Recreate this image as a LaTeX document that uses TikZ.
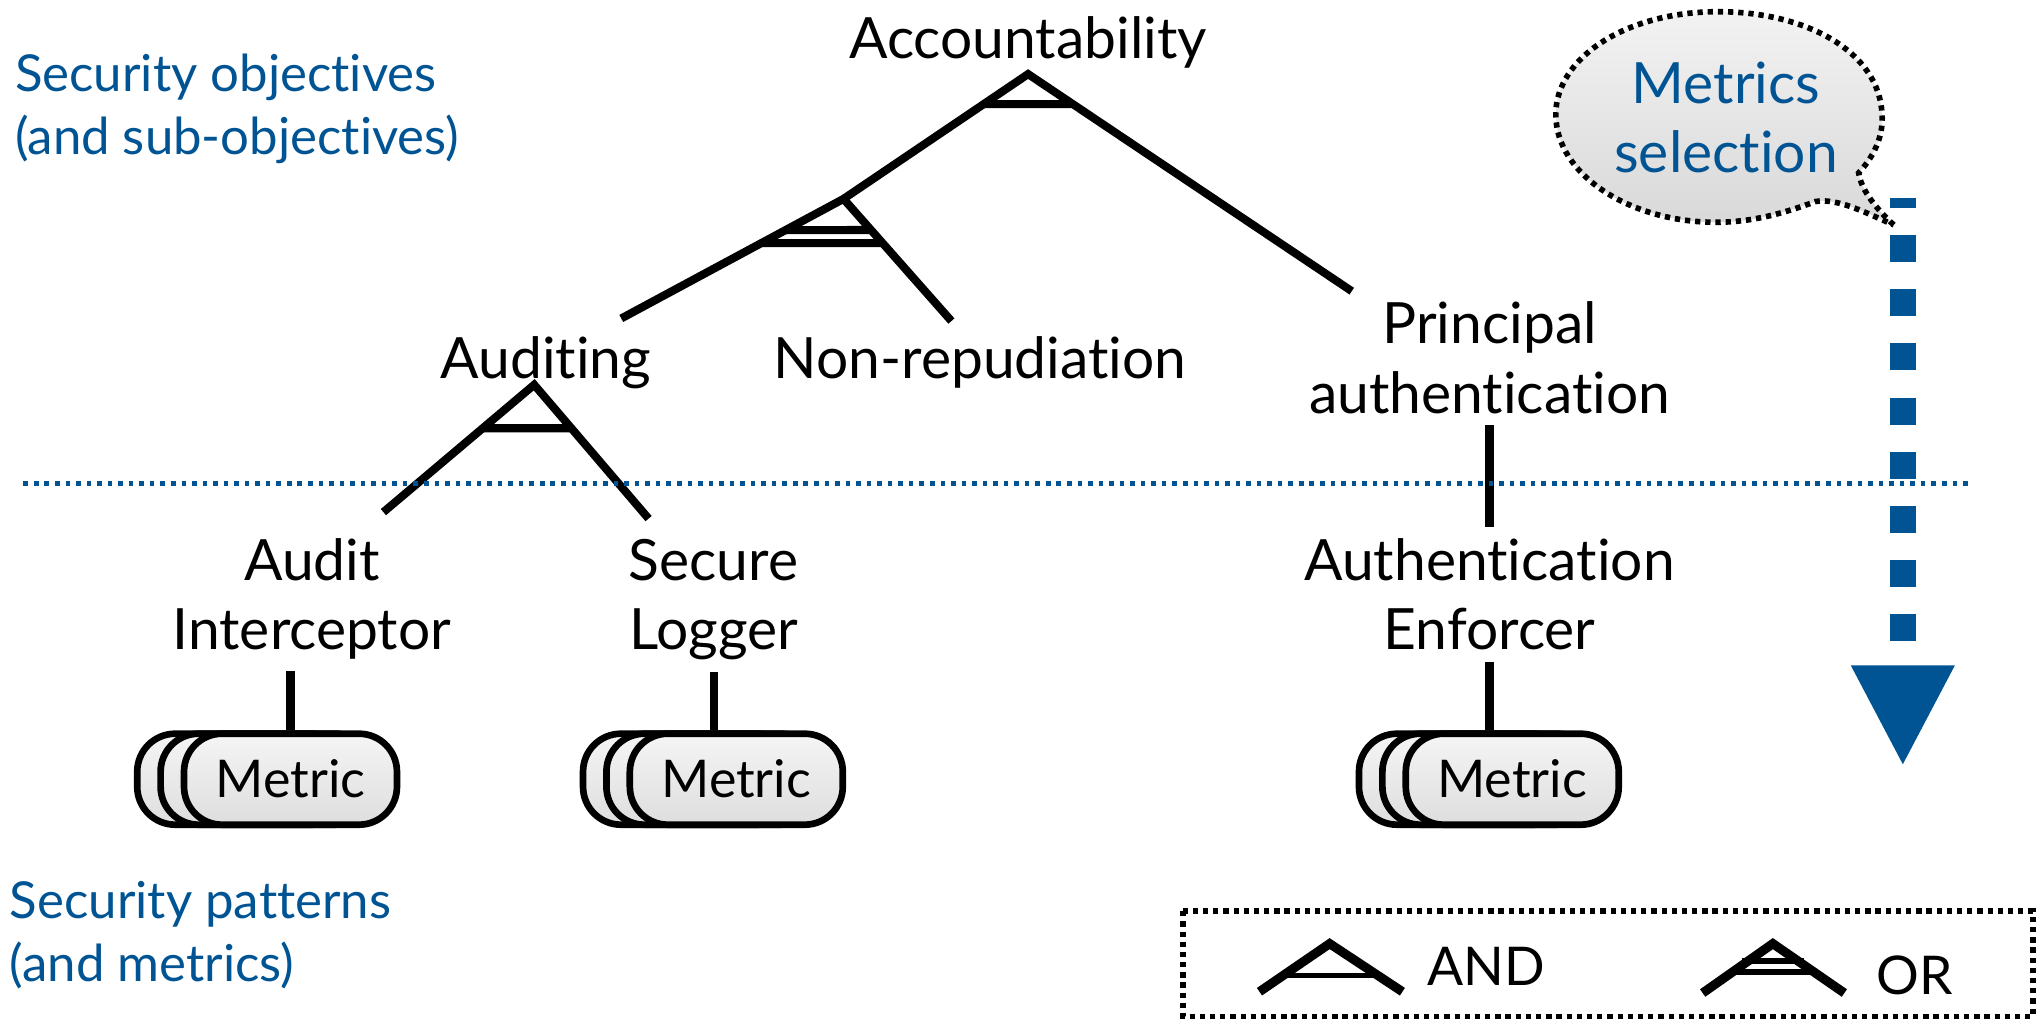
\documentclass[tikz,border=0pt]{standalone}
\usepackage{fontspec}
\setmainfont{Lato}[Ligatures=NoCommon]
\usetikzlibrary{calc}
\definecolor{secblue}{RGB}{0,84,147}

\begin{document}
\begin{tikzpicture}[x=0.013cm,y=-0.013cm]
\tikzstyle{goal}= [align=center,anchor=base,inner sep=3pt,font=\fontsize{16.2}{19.8}\selectfont]
\tikzstyle{layer}= [align=left,anchor=base west,inner sep=0pt,text=secblue,font=\fontsize{14.5}{18}\selectfont]
\tikzstyle{edge}= [line width=2.3pt]
\tikzstyle{legsym}= [line width=2.6pt]
\tikzstyle{legbar}= [line width=1.6pt]
\tikzstyle{metric}= [rectangle,draw,line width=1.9pt,rounded corners=0.38cm,top color=gray!8,bottom color=gray!26,minimum width=2.13cm,minimum height=0.91cm,font=\fontsize{14.8}{17}\selectfont]
\tikzstyle{sep}= [secblue,line width=1.3pt,dash pattern=on 1.3pt off 1.7pt]
\tikzstyle{dots}= [line width=1.6pt,dash pattern=on 1.5pt off 1.4pt]

\useasboundingbox (0,0) rectangle (1568,785);

% captions of the two layers (base = last line)
\node[layer] (objcap) at (11,119) {Security objectives\\(and sub-objectives)};
\node[layer] (patcap) at (7,755) {Security patterns\\(and metrics)};

% objectives and patterns
\path
	(791,45)   node[goal] (acc)     {Accountability}
	(420,291)  node[goal] (aud)     {Auditing}
	(754,291)  node[goal] (nonrep)  {Non-repudiation}
	(1146,318) node[goal] (princ)   {Principal\\authentication}
	(240,500)  node[goal] (intc)    {Audit\\Interceptor}
	(549,500)  node[goal] (logger)  {Secure\\Logger}
	(1146,500) node[goal] (authenf) {Authentication\\Enforcer}
;

% gates and ends of the legs
\coordinate (accG) at (791,57);
\coordinate (orG)  at (649,153);
\coordinate (audG) at (411,296);
\coordinate (audE) at (478,245);
\coordinate (nonE) at (732,247);
\coordinate (priE) at (1040,224);
\coordinate (intE) at (295,394);
\coordinate (logE) at (499,399);

% AND below Accountability
\draw[edge] (orG) -- (accG) -- (priE);
\draw[edge] ($(accG)!0.24!(orG)$) -- ($(accG)!0.138!(priE)$);
% OR below it
\draw[edge] (audE) -- (orG) -- (nonE);
\draw[edge] ($(orG)!0.261!(audE)$) -- ($(orG)!0.255!(nonE)$);
\draw[edge] ($(orG)!0.37!(audE)$) -- ($(orG)!0.362!(nonE)$);
% AND below Auditing
\draw[edge] (intE) -- (audG) -- (logE);
\draw[edge] ($(audG)!0.342!(intE)$) -- ($(audG)!0.325!(logE)$);
\draw[edge] (princ.south) -- (authenf.north);

% border between the layers
\coordinate (sepL) at (18,372);
\coordinate (sepR) at (1516,372);
\draw[sep] (sepL) -- (sepR);

% metric stacks
\foreach \x/\n in {223.5/A,566.5/B,1163.5/C} {
	\node[metric] at (\x-36,599.5) {};
	\node[metric] at (\x-18,599.5) {};
	\node[metric] (met\n) at (\x,599.5) {Metric};
}
\draw[edge] (metA.north) -- (metA.north |- intc.south);
\draw[edge] (logger.south) -- (logger.south |- metB.north);
\draw[edge] (authenf.south) -- (authenf.south |- metC.north);

% speech bubble
\path[dots,draw,top color=gray!10,bottom color=gray!30]
	(1457,173) .. controls (1445,162) and (1432,147) .. (1430,133)
	.. controls (1444,118) and (1449,102) .. (1448,88)
	.. controls (1446,40) and (1390,9) .. (1322,9)
	.. controls (1250,9) and (1197,45) .. (1197,88)
	.. controls (1197,135) and (1255,171) .. (1320,171)
	.. controls (1350,171) and (1375,163) .. (1397,155)
	.. controls (1415,152) and (1440,166) .. (1457,173) -- cycle;
\node[align=center,anchor=base,text=secblue,font=\fontsize{16.2}{19.8}\selectfont] (msel) at (1328,133) {Metrics\\selection};

% selection arrow
\coordinate (selS) at (1464,152);
\coordinate (selE) at (1464,512);
\draw[secblue,line width=7.4pt,dash pattern=on 7.7pt off 7.7pt,dash phase=4.7pt] (selS) -- (selE);
\fill[secblue] ($(selE)+(-40,0)$) -- ($(selE)+(40,0)$) -- ($(selE)+(0,76)$) -- cycle;

% legend
\draw[dots] (910,701) rectangle (1564,782);
\draw[legsym] (969,763) -- (1023,726) -- (1079,763);
\draw[legbar] (986,750.5) -- (1060,750.5);
\node[anchor=base west,inner sep=0pt,font=\fontsize{15.2}{18}\selectfont] (andtxt) at (1098,758) {AND};
\draw[legsym] (1310,764) -- (1364,726) -- (1419,764);
\draw[legbar] (1340,739.5) -- (1388,739.5);
\draw[legbar] (1330,748) -- (1398,748);
\node[anchor=base west,inner sep=0pt,font=\fontsize{15.2}{18}\selectfont] (ortxt) at (1443,765) {OR};
\end{tikzpicture}
\end{document}
